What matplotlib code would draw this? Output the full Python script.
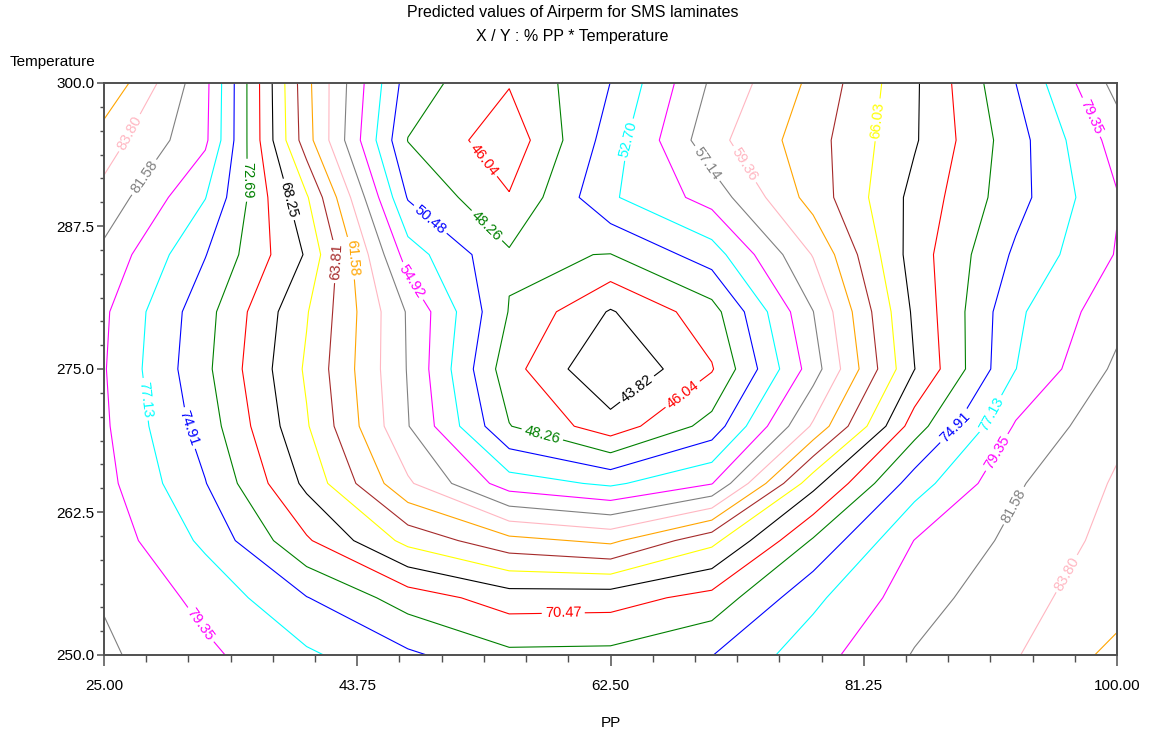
import numpy as np
import matplotlib
matplotlib.use("Agg")
import matplotlib.pyplot as plt
from matplotlib.ticker import FixedLocator

plt.rcParams['font.family'] = ['Liberation Sans', 'DejaVu Sans']

# ---- data ----
pp = [25.0, 32.5, 40.0, 47.5, 55.0, 62.5, 70.0, 77.5, 85.0, 92.5, 100.0]
temperature = [250, 255, 260, 265, 270, 275, 280, 285, 290, 295, 300]

airperm_250 = [81.97, 79.8, 77.5, 75.3, 73.2, 73.3, 74.85, 78.45, 81.73, 83.65, 86.7]
airperm_255 = [81.4, 78.7, 75.0, 71.66, 69.4, 69.5, 71.25, 76.6, 80.6, 83.1, 85.0]
airperm_260 = [80.74, 76.65, 70.77, 65.35, 62.25, 61.1, 65.36, 72.95, 79.4, 82.15, 84.55]
airperm_265 = [80.06, 75.0, 67.7, 59.7, 53.77, 52.3, 54.8, 67.5, 76.05, 81.3, 84.06]
airperm_270 = [79.7, 73.9, 66.25, 57.25, 48.35, 44.75, 49.1, 59.7, 71.6, 79.6, 83.3]
airperm_275 = [79.5, 73.2, 65.7, 57.0, 46.9, 41.6, 45.86, 56.07, 68.2, 77.1, 82.05]
airperm_280 = [79.7, 73.5, 66.2, 56.9, 48.15, 43.62, 47.35, 57.1, 68.7, 76.7, 80.8]
airperm_285 = [81.0, 75.0, 68.0, 53.8, 48.55, 48.2, 51.6, 59.5, 69.35, 75.3, 79.5]
airperm_290 = [83.1, 77.2, 66.3, 50.3, 46.2, 52.4, 55.8, 62.5, 68.95, 74.1, 79.2]
airperm_295 = [84.9, 79.8, 62.5, 48.2, 44.6, 51.5, 58.6, 62.9, 68.0, 74.0, 80.3]
airperm_300 = [88.0, 80.0, 62.2, 49.4, 46.2, 50.5, 57.5, 62.1, 67.9, 74.9, 82.4]

levels = [43.82, 46.04, 48.26, 50.48, 52.70, 54.92, 57.14, 59.36, 61.58, 63.81,
          66.03, 68.25, 70.47, 72.69, 74.91, 77.13, 79.35, 81.58, 83.80, 86.03]

x_ticks = [25.00, 43.75, 62.50, 81.25, 100.00]
x_tick_labels = ["25.00", "43.75", "62.50", "81.25", "100.00"]
y_ticks = [250.0, 262.5, 275.0, 287.5, 300.0]
y_tick_labels = ["250.0", "262.5", "275.0", "287.5", "300.0"]

# labels: (level, approx PP, approx Temperature)
label_spots = [
    (83.80, 27.9, 295.0), (81.58, 28.3, 291.5), (72.69, 35.1, 291.5),
    (68.25, 38.6, 289.8), (63.81, 41.9, 284.4), (61.58, 43.4, 284.7),
    (54.92, 48.0, 282.8), (50.48, 49.1, 288.0), (48.26, 53.4, 287.6),
    (46.04, 53.1, 293.3), (52.70, 64.0, 295.0), (57.14, 69.7, 293.0),
    (59.36, 72.3, 292.8), (66.03, 82.1, 296.8), (79.35, 97.7, 296.8),
    (43.82, 64.5, 273.2), (46.04, 67.9, 272.7), (48.26, 57.5, 269.5),
    (77.13, 27.7, 272.3), (74.91, 31.0, 269.7), (79.35, 32.1, 252.6),
    (70.47, 59.0, 253.8), (74.91, 88.2, 269.7), (77.13, 90.8, 271.0),
    (79.35, 91.4, 267.5), (81.58, 92.3, 263.1), (83.80, 96.9, 256.7),
]

# ---- styling ----
color_cycle = ['#000000', '#ff0000', '#008000', '#0000ff', '#00ffff', '#ff00ff',
               '#808080', '#ffb6c1', '#ffa500', '#a52a2a', '#ffff00']
line_colors = [color_cycle[i % len(color_cycle)] for i in range(len(levels))]

Z = np.array([airperm_250, airperm_255, airperm_260, airperm_265, airperm_270,
              airperm_275, airperm_280, airperm_285, airperm_290, airperm_295,
              airperm_300])
X, Y = np.meshgrid(pp, temperature)

fig = plt.figure(figsize=(11.52, 7.38), dpi=100)
ax = fig.add_axes([104 / 1152, 1 - 655 / 738, (1117 - 104) / 1152, (655 - 83) / 738])
ax.set_xlim(25, 100)
ax.set_ylim(250, 300)

cs = ax.contour(X, Y, Z, levels=levels, colors=line_colors, linewidths=0.8)


def place_label(lev, lx, ly):
    i = int(np.argmin([abs(l - lev) for l in levels]))
    target = ax.transData.transform((lx, ly))
    best = None
    for seg in cs.allsegs[i]:
        if len(seg) < 2:
            continue
        pts = ax.transData.transform(seg)
        p0, p1 = pts[:-1], pts[1:]
        d = p1 - p0
        dd = np.maximum((d ** 2).sum(axis=1), 1e-12)
        t = np.clip(((target - p0) * d).sum(axis=1) / dd, 0, 1)
        proj = p0 + t[:, None] * d
        dist = np.hypot(*(proj - target).T)
        k = int(np.argmin(dist))
        if best is None or dist[k] < best[0]:
            best = (dist[k], proj[k], d[k])
    if best is None:
        return
    _, pt, dv = best
    ang = np.degrees(np.arctan2(dv[1], dv[0]))
    if ang > 90:
        ang -= 180
    if ang < -90:
        ang += 180
    xy = ax.transData.inverted().transform(pt)
    ax.text(xy[0], xy[1], '%.2f' % levels[i], color=line_colors[i], fontsize=10.5,
            rotation=ang, rotation_mode='anchor', ha='center', va='center',
            bbox=dict(boxstyle='square,pad=0.22', fc='white', ec='none'), zorder=5)


for lev, lx, ly in label_spots:
    place_label(lev, lx, ly)

ax.xaxis.set_major_locator(FixedLocator(x_ticks))
ax.set_xticklabels(x_tick_labels)
ax.xaxis.set_minor_locator(FixedLocator(np.arange(25, 100.01, 3.125)))
ax.yaxis.set_major_locator(FixedLocator(y_ticks))
ax.set_yticklabels(y_tick_labels)
ax.yaxis.set_minor_locator(FixedLocator(np.linspace(250, 300, 25)))

frame_col = '#505050'
for sp in ax.spines.values():
    sp.set_color(frame_col)
    sp.set_linewidth(1.4)
    sp.set_zorder(6)
ax.tick_params(axis='x', which='major', length=8, width=1.1, color=frame_col,
               labelsize=11, pad=9)
ax.tick_params(axis='x', which='minor', length=5, width=1.0, color=frame_col)
ax.tick_params(axis='y', which='major', length=5, width=1.1, color=frame_col,
               labelsize=11, pad=2)
ax.tick_params(axis='y', which='minor', length=3, width=1.0, color=frame_col)

ax.set_xlabel('PP', fontsize=11, labelpad=17)
fig.text(52 / 1152, 1 - 62 / 738, 'Temperature', ha='center', va='center', fontsize=11)
fig.text(573 / 1152, 1 - 13 / 738, 'Predicted values of Airperm for SMS laminates',
         ha='center', va='center', fontsize=11.5)
fig.text(572 / 1152, 1 - 37 / 738, 'X / Y : % PP * Temperature',
         ha='center', va='center', fontsize=11.5)

fig.savefig('out.png', dpi=100)
